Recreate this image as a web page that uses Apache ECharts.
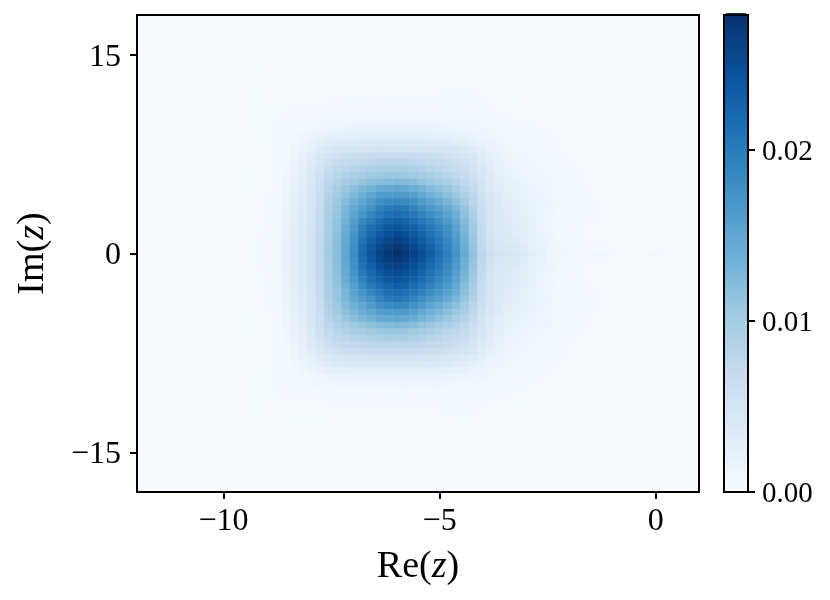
<!DOCTYPE html>
<html>
<head>
<meta charset="utf-8">
<title>Re(z) Im(z) density</title>
<script src="https://cdn.jsdelivr.net/npm/echarts@6/dist/echarts.min.js"></script>
<style>
  html, body { margin: 0; padding: 0; background: #fff; }
  #main { width: 830px; height: 600px; }
</style>
</head>
<body>
<div id="main"></div>
<script>
// colormap "Blues" stops
var blues = ["#f7fbff", "#deebf7", "#c6dbef", "#9ecae1", "#6baed6", "#4292c6", "#2171b5", "#08519c", "#08306b"];

var xTicks = [-10, -5, 0];
var yTicks = [-15, 0, 15];
var barTicks = [0, 0.01, 0.02];

// band centres of the image
var reCategories = [-12,-11.8,-11.6,-11.4,-11.2,-11,-10.8,-10.6,-10.4,-10.2,-10,-9.8,-9.6,-9.4,-9.2,-9,-8.8,-8.6,-8.4,-8.2,-8,-7.8,-7.6,-7.4,-7.2,-7,-6.8,-6.6,-6.4,-6.2,-6,-5.8,-5.6,-5.4,-5.2,-5,-4.8,-4.6,-4.4,-4.2,-4,-3.8,-3.6,-3.4,-3.2,-3,-2.8,-2.6,-2.4,-2.2,-2,-1.8,-1.6,-1.4,-1.2,-1,-0.8,-0.6,-0.4,-0.2,0,0.2,0.4,0.6,0.8,1];
var imCategories = [-18,-17.5,-17,-16.5,-16,-15.5,-15,-14.5,-14,-13.5,-13,-12.5,-12,-11.5,-11,-10.5,-10,-9.5,-9,-8.5,-8,-7.5,-7,-6.5,-6,-5.5,-5,-4.5,-4,-3.5,-3,-2.5,-2,-1.5,-1,-0.5,0,0.5,1,1.5,2,2.5,3,3.5,4,4.5,5,5.5,6,6.5,7,7.5,8,8.5,9,9.5,10,10.5,11,11.5,12,12.5,13,13.5,14,14.5,15,15.5,16,16.5,17,17.5,18];

// density x 1e-4. First row is Im(z)=0, next rows go out by 0.5,
// the picture is symmetric in Im(z). Each row starts at Re(z)=-9.6, step 0.2
var firstColumn = 12;
var centreRow = 36;
var density = [
  [3,3,4,6,10,20,30,38,52,74,100,118,148,180,218,242,260,272,278,272,260,248,232,212,194,172,142,112,78,58,50,45,42,36,28,22,17,13,10,8,6,8,9,6,2,1,1,3,7,4],
  [2,3,4,6,10,19,30,38,52,74,99,118,148,178,214,236,254,266,272,266,254,242,226,207,190,168,139,110,74,54,46,41,38,32,25,20,15,11,8,6,4,4,4,3,1],
  [2,3,4,5,9,19,29,38,51,73,98,117,146,175,208,228,246,257,262,257,246,235,219,202,186,164,136,108,72,52,43,38,34,29,23,18,14,10,7,5,3,2,2,1],
  [2,2,3,5,9,18,29,37,50,72,97,116,143,171,201,220,236,247,252,247,237,226,210,196,180,158,132,105,70,50,41,35,31,27,21,17,13,9,7,4,3,2,1],
  [1,2,3,5,8,18,28,37,50,71,96,114,140,166,194,212,226,238,243,238,228,217,202,188,174,153,128,102,68,49,40,34,30,26,21,16,12,9,6,4,3,2,1],
  [1,2,3,4,8,17,28,36,49,70,95,112,135,158,183,198,212,224,228,224,214,204,192,178,165,146,122,98,66,48,39,33,29,26,21,16,12,9,7,5,4,3,2,1],
  [1,2,3,4,8,17,27,35,48,69,94,110,131,152,172,188,202,212,216,212,203,192,180,168,155,138,116,93,63,46,38,32,28,25,20,16,12,9,7,6,5,4,2,1],
  [1,2,2,4,7,16,26,34,47,68,92,108,127,146,161,173,190,200,205,200,190,178,166,156,143,128,110,88,62,45,36,31,27,24,20,15,12,9,8,7,6,4,2,1],
  [1,2,2,4,7,15,25,33,46,66,90,105,122,138,150,162,175,183,186,183,174,163,152,141,130,117,100,81,59,43,35,29,25,22,18,15,12,10,8,7,6,4,2,1],
  [1,1,2,3,6,14,24,32,46,64,86,100,115,128,139,149,158,163,165,163,156,146,136,127,118,106,92,75,55,41,33,27,23,20,17,14,11,9,8,7,5,3,1],
  [1,1,2,3,6,13,22,30,44,62,82,95,107,118,127,135,142,146,148,146,140,132,123,115,107,97,84,69,51,38,31,25,21,18,15,13,10,9,8,6,4,2,1],
  [1,1,2,3,5,12,21,29,42,60,78,88,96,104,111,117,121,124,125,124,119,112,106,100,93,85,75,63,47,35,28,22,19,16,14,12,10,8,7,5,3,2],
  [1,1,2,3,5,11,19,27,40,56,72,81,87,93,98,103,106,108,108,107,103,98,93,88,82,76,68,58,44,33,26,20,17,15,13,11,9,8,6,4,2,1],
  [1,1,2,3,5,10,18,25,38,52,66,74,78,83,87,90,92,93,93,93,90,86,82,78,73,68,62,53,41,31,24,18,15,13,11,10,8,7,5,3,2],
  [1,2,2,3,4,9,16,23,34,48,58,66,70,73,76,78,79,80,80,80,78,75,72,69,65,61,56,48,37,28,22,16,13,12,10,9,7,6,4,2,1],
  [1,2,2,3,4,8,15,21,30,42,50,56,59,62,64,65,66,66,66,66,65,63,61,59,56,52,47,41,32,25,19,14,12,10,9,8,6,5,3,1],
  [1,2,2,3,4,7,13,18,25,34,40,45,47,49,50,51,51,51,51,51,50,49,48,46,44,41,37,32,26,20,16,12,10,9,8,7,5,4,2,1],
  [1,2,3,3,4,6,11,15,20,27,31,34,35,37,38,38,38,38,38,38,38,37,36,35,33,31,28,24,20,16,13,10,9,8,7,6,4,3,1],
  [2,2,3,3,4,6,9,12,16,19,23,25,26,26,27,27,27,27,27,27,27,26,26,25,24,22,20,17,15,12,10,9,7,6,5,4,3,2],
  [2,3,3,3,4,5,7,9,11,13,15,16,18,19,19,19,19,19,19,19,19,19,19,18,17,15,14,13,12,10,8,7,6,5,4,3,2,1],
  [2,3,3,3,4,4,6,7,8,10,11,12,12,13,13,13,13,13,13,13,13,13,12,12,12,11,11,10,9,8,6,5,4,4,3,2,1],
  [2,3,3,3,3,4,5,5,6,7,8,8,9,9,9,9,9,9,9,9,9,9,9,9,9,9,8,8,7,6,5,4,3,3,2,1],
  [2,3,3,3,3,3,4,4,4,5,5,6,6,6,6,6,6,6,6,6,6,6,6,7,7,7,6,6,5,4,3,3,2,2,1],
  [2,3,3,3,3,3,3,3,3,3,3,4,4,4,4,4,4,4,4,4,4,4,4,5,5,5,5,4,4,3,2,2,1,1],
  [2,3,3,2,2,2,2,2,2,2,2,2,3,3,3,3,3,3,3,3,3,3,3,3,4,4,4,4,3,2,2,1,1],
  [2,3,3,2,2,1,1,1,1,1,1,2,2,2,2,2,2,2,2,2,2,2,2,3,3,3,3,3,2,2,1],
  [2,3,2,2,1,1,1,1,1,1,1,1,1,1,1,1,1,1,1,1,1,1,2,2,2,3,3,3,2,1],
  [2,2,2,1,1,0,0,0,0,0,0,0,0,0,0,0,0,0,0,0,0,0,1,1,2,2,2,2,1],
  [1,2,1,1,0,0,0,0,0,0,0,0,0,0,0,0,0,0,0,0,0,0,0,1,1,2,2,1,1],
  [1,1,1,0,0,0,0,0,0,0,0,0,0,0,0,0,0,0,0,0,0,0,0,0,1,1,1,1]
];

var cells = [];
density.forEach(function (row, j) {
  row.forEach(function (v, i) {
    cells.push([firstColumn + i, centreRow + j, v * 1e-4]);
    if (j > 0) cells.push([firstColumn + i, centreRow - j, v * 1e-4]);
  });
});

function minusLabel(v) {
  return "{a|" + String(v).replace("-", "\u2212") + "}";
}

var font = "Liberation Serif";
var myChart = echarts.init(document.getElementById("main"), null, { renderer: "canvas" });

var option = {
  animation: false,
  backgroundColor: "#fff",
  textStyle: { fontFamily: font, color: "#000" },
  grid: [
    { left: 137, top: 15, width: 562, height: 477, show: true, backgroundColor: blues[0], borderColor: "#000", borderWidth: 2, z: 0 },
    { left: 724, top: 15, width: 24, height: 477, show: true, backgroundColor: "transparent", borderColor: "#000", borderWidth: 2, z: 8 }
  ],
  xAxis: [
    { type: "category", gridIndex: 0, data: reCategories, show: false },
    {
      type: "value", gridIndex: 0, min: -12, max: 1, position: "bottom", splitLine: { show: false },
      axisLine: { show: false, onZero: false },
      axisTick: { length: 7, lineStyle: { color: "#000", width: 2 }, customValues: xTicks },
      axisLabel: {
        customValues: xTicks, margin: 14, fontSize: 32, fontFamily: font, color: "#000", formatter: minusLabel,
        rich: { a: { fontFamily: font, fontSize: 32, color: "#000" } }
      },
      name: "{t|Re(}{i|z}{t|)}", nameLocation: "middle", nameGap: 56,
      nameTextStyle: {
        rich: {
          t: { fontFamily: font, fontSize: 38, color: "#000" },
          i: { fontFamily: font, fontSize: 38, fontStyle: "italic", color: "#000" }
        }
      }
    },
    { type: "value", gridIndex: 1, min: 0, max: 1, show: false }
  ],
  yAxis: [
    { type: "category", gridIndex: 0, data: imCategories, show: false },
    {
      type: "value", gridIndex: 0, min: -18, max: 18, position: "left", splitLine: { show: false },
      axisLine: { show: false, onZero: false },
      axisTick: { length: 7, lineStyle: { color: "#000", width: 2 }, customValues: yTicks },
      axisLabel: {
        customValues: yTicks, margin: 16, fontSize: 32, fontFamily: font, color: "#000", formatter: minusLabel,
        rich: { a: { fontFamily: font, fontSize: 32, color: "#000", padding: [5, 0, 0, 0] } }
      },
      name: "{t|Im(}{i|z}{t|)}", nameLocation: "middle", nameGap: 85, nameRotate: 90,
      nameTextStyle: {
        rich: {
          t: { fontFamily: font, fontSize: 38, color: "#000" },
          i: { fontFamily: font, fontSize: 38, fontStyle: "italic", color: "#000" }
        }
      }
    },
    {
      type: "value", gridIndex: 1, min: 0, max: 0.0279, position: "right", splitLine: { show: false },
      z: 9,
      axisLine: { show: false, onZero: false },
      axisTick: { length: 7, lineStyle: { color: "#000", width: 2 }, customValues: barTicks },
      axisLabel: {
        customValues: barTicks, margin: 14, fontSize: 29, fontFamily: font, color: "#000",
        rich: { a: { fontFamily: font, fontSize: 29, color: "#000", padding: [5, 0, 0, 0] } },
        formatter: function (v) { return "{a|" + v.toFixed(2) + "}"; }
      }
    }
  ],
  visualMap: {
    type: "continuous",
    min: 0,
    max: 0.0279,
    seriesIndex: 0,
    calculable: false,
    hoverLink: false,
    left: 725,
    top: 13,
    padding: 0,
    itemWidth: 22,
    itemHeight: 479,
    text: null,
    showLabel: false,
    inRange: { color: blues }
  },
  series: [
    {
      type: "heatmap",
      xAxisIndex: 0,
      yAxisIndex: 0,
      data: cells,
      z: 2,
      progressive: 0,
      emphasis: { disabled: true }
    }
  ]
};
myChart.setOption(option);
</script>
</body>
</html>
